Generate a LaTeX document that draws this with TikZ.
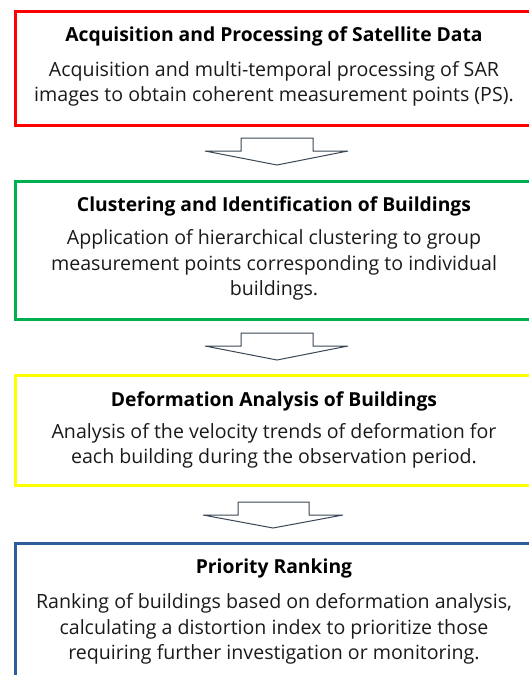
\documentclass[tikz,border=0pt]{standalone}
\usepackage{fontspec}
\setmainfont{Open Sans}
\definecolor{cred}{HTML}{FF0000}
\definecolor{cgreen}{HTML}{00B050}
\definecolor{cyellow}{HTML}{FFFF00}
\definecolor{cblue}{HTML}{2E5D9A}
\definecolor{carrow}{HTML}{3A4656}
\definecolor{ctext}{HTML}{1A1A1A}
\tikzset{
  stagebox/.style={draw, line width=3pt, anchor=north west, inner sep=0pt},
  titletext/.style={font=\fontsize{19.3}{22}\selectfont\bfseries, text=black, inner sep=0pt},
  bodytext/.style={font=\fontsize{19.6}{25.5}\selectfont, text=ctext, align=center, inner sep=0pt},
  blockarrow/.style={draw=carrow, line width=1pt, fill=white, line join=miter},
}
\begin{document}
\begin{tikzpicture}[x=1pt,y=-1pt]
\useasboundingbox (0,0) rectangle (529,675);
\clip (0,0) rectangle (529,675);
% boxes
\node[stagebox, draw=cred, minimum width=526pt, minimum height=114pt] (b1) at (14,10) {};
\node[stagebox, draw=cgreen, minimum width=526pt, minimum height=138pt] (b2) at (14,180) {};
\node[stagebox, draw=cyellow, minimum width=526pt, minimum height=110pt] (b3) at (14,374) {};
\node[stagebox, draw=cblue, minimum width=526pt, minimum height=160pt] (b4) at (14,542) {};
% texts
\node[titletext] (t1) at (274,36) {Acquisition and Processing of Satellite Data};
\node[bodytext] (d1) at (274,84) {Acquisition and multi-temporal processing of SAR\\images to obtain coherent measurement points (PS).};
\node[titletext] (t2) at (274,206) {Clustering and Identification of Buildings};
\node[bodytext] (d2) at (274,265) {Application of hierarchical clustering to group\\measurement points corresponding to individual\\buildings.};
\node[titletext] (t3) at (274,401) {Deformation Analysis of Buildings};
\node[bodytext] (d3) at (274,446) {Analysis of the velocity trends of deformation for\\each building during the observation period.};
\node[titletext] (t4) at (274,568) {Priority Ranking};
\node[bodytext] (d4) at (274,629) {Ranking of buildings based on deformation analysis,\\calculating a distortion index to prioritize those\\requiring further investigation or monitoring.};
% block arrows
\draw[blockarrow] (241,138) -- (313,138) -- (313,151) -- (348,151) -- (277,165) -- (205,151) -- (241,151) -- cycle;
\draw[blockarrow] (241,333) -- (313,333) -- (313,346) -- (348,346) -- (277,360) -- (205,346) -- (241,346) -- cycle;
\draw[blockarrow] (238,502) -- (309,502) -- (309,515) -- (343,515) -- (273,528) -- (203,515) -- (238,515) -- cycle;
\end{tikzpicture}
\end{document}
